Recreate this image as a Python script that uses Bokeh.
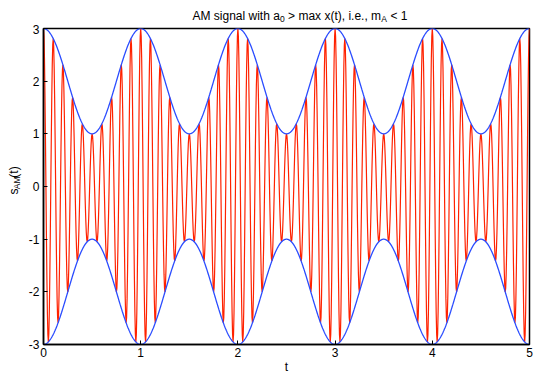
import numpy as np
from bokeh.plotting import figure
from bokeh.layouts import column, row
from bokeh.models import PrintfTickFormatter, Range1d
from bokeh.core.properties import value
from bokeh.embed import file_html
from bokeh.resources import INLINE

# ---- signal parameters ----
t_start, t_end = 0.0, 5.0
n_samples = 1001
a0 = 2.0            # carrier offset
msg_amp = 1.0       # amplitude of x(t)
f_msg = 1.0         # message frequency
f_carrier = 10.0    # carrier frequency

x_ticks = [0, 1, 2, 3, 4, 5]
y_ticks = [-3, -2, -1, 0, 1, 2, 3]

# title "AM signal with a_0 > max x(t), i.e., m_A < 1" in pieces
title_parts = ["AM signal with a", "0", "> max x(t), i.e., m", "A", "< 1"]
ylabel_parts = ["s", "AM", "(t)"]
xlabel = "t"

t = np.linspace(t_start, t_end, n_samples)
envelope = a0 + msg_amp * np.cos(2 * np.pi * f_msg * t)
s_am = envelope * np.cos(2 * np.pi * f_carrier * t)

FONT = "Liberation Sans"
BIG, SMALL = "12px", "8.5px"
W = 534
TOP_H = 24
YL_W = 22
MAIN_H = 376 - TOP_H
SP = 3.3  # width of a space at 12px


def blank_fig(w, h, xr, yr):
    f = figure(width=w, height=h, x_range=xr, y_range=yr,
               output_backend="svg", toolbar_location=None, title=None,
               x_axis_location=None, y_axis_location=None,
               min_border=0, min_border_left=0, min_border_right=0,
               min_border_top=0, min_border_bottom=0)
    f.outline_line_color = None
    f.xgrid.visible = False
    f.ygrid.visible = False
    f.background_fill_color = "white"
    f.border_fill_color = "white"
    return f


def put(f, x, y, txt, size=BIG, angle=0.0, align="left"):
    f.text(x=[x], y=[y], text=[txt], angle=angle,
           text_font=value(FONT), text_font_size=value(size),
           text_color="black", text_align=align,
           text_baseline="alphabetic")


# ---- title strip (pixel coordinates, y measured from top) ----
tf = blank_fig(W, TOP_H, Range1d(0, W), Range1d(TOP_H, 0))
advance = [87.4, 4.9 + SP, 93.1, 5.9 + SP, 17.1]
x0 = 192.0
for part, adv, is_sub in zip(title_parts, advance, [0, 1, 0, 1, 0]):
    put(tf, x0, 15 + 3 * is_sub, part, size=SMALL if is_sub else BIG)
    x0 += adv

# ---- y label strip (pixel coordinates, y from bottom) ----
yf = blank_fig(YL_W, MAIN_H, Range1d(0, YL_W), Range1d(0, MAIN_H))
ang = np.pi / 2
yb = MAIN_H - (209 - TOP_H)
ylw = [6.0, 12.8, 11.3]
for part, adv, is_sub in zip(ylabel_parts, ylw, [0, 1, 0]):
    put(yf, 13 + 3 * is_sub, yb, part, size=SMALL if is_sub else BIG, angle=ang)
    yb += adv

# ---- main plot ----
p = figure(width=W - YL_W, height=MAIN_H, x_range=(0, 5), y_range=(-3, 3),
           output_backend="svg", toolbar_location=None, title=None,
           min_border_left=43 - YL_W, min_border_right=5, min_border_top=4,
           min_border_bottom=30)
p.background_fill_color = "white"
p.border_fill_color = "white"
p.outline_line_color = "black"
p.outline_line_width = 1.5
p.xgrid.visible = False
p.ygrid.visible = False

for ax, ticks in ((p.xaxis, x_ticks), (p.yaxis, y_ticks)):
    ax.ticker = ticks
    ax.formatter = PrintfTickFormatter(format="%d")
    ax.major_tick_in = 4
    ax.major_tick_out = 0
    ax.minor_tick_in = 0
    ax.minor_tick_out = 0
    ax.major_tick_line_color = "black"
    ax.major_tick_line_width = 1
    ax.axis_line_color = "black"
    ax.axis_line_width = 1.5
    ax.major_label_text_font = FONT
    ax.major_label_text_font_size = BIG
    ax.major_label_text_color = "black"
p.xaxis.major_label_standoff = 3
p.yaxis.major_label_standoff = 4
p.xaxis.axis_label = xlabel
p.xaxis.axis_label_standoff = 0
p.xaxis.axis_label_text_font = FONT
p.xaxis.axis_label_text_font_size = BIG
p.xaxis.axis_label_text_font_style = "normal"
p.xaxis.axis_label_text_color = "black"

p.line(t, s_am, line_color="#ff2200", line_width=1.2)
p.line(t, envelope, line_color="#2a4cff", line_width=1.3)
p.line(t, -envelope, line_color="#2a4cff", line_width=1.3)

layout = column(tf, row(yf, p, spacing=0), spacing=0)
open("out.html", "w").write(file_html(layout, INLINE))
